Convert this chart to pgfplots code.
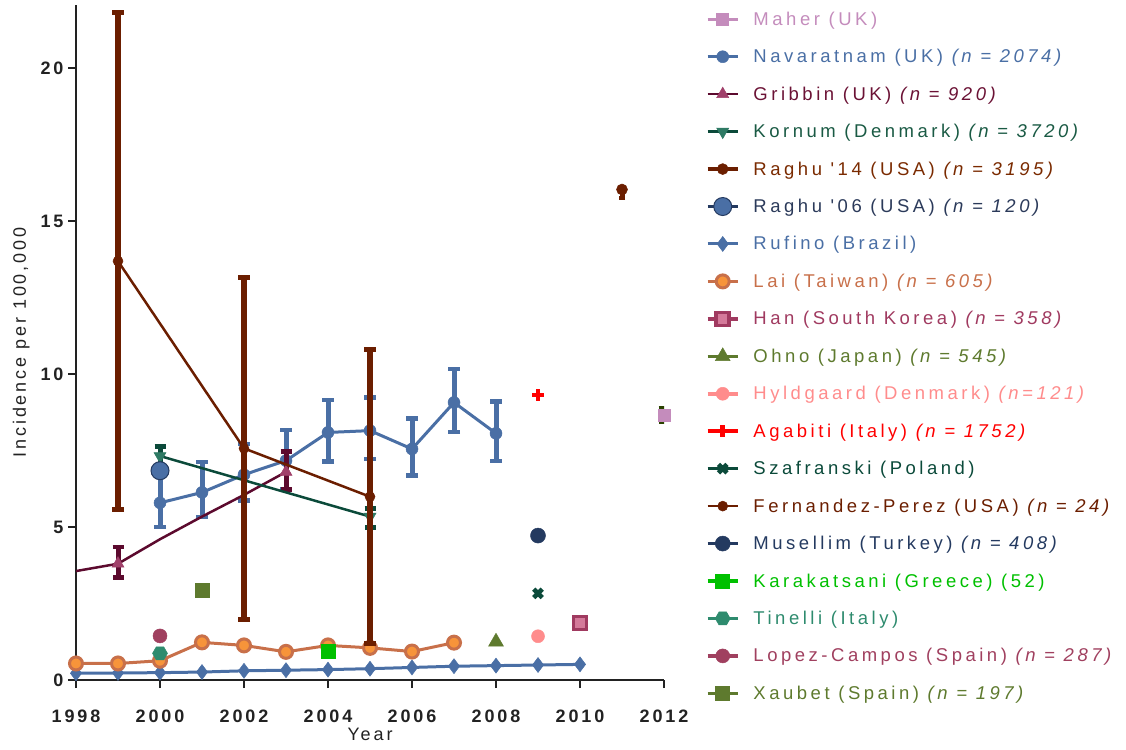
\documentclass[border=0pt]{standalone}
\usepackage{fontspec}
\setmainfont{Liberation Sans}[LetterSpace=16, Ligatures=TeXOff]
\usepackage{pgfplots}
\pgfplotsset{compat=1.18}
\usetikzlibrary{plotmarks}

\pgfdeclareplotmark{hexagon*}{%
  \pgfpathmoveto{\pgfqpointpolar{0}{\pgfplotmarksize}}%
  \pgfpathlineto{\pgfqpointpolar{60}{\pgfplotmarksize}}%
  \pgfpathlineto{\pgfqpointpolar{120}{\pgfplotmarksize}}%
  \pgfpathlineto{\pgfqpointpolar{180}{\pgfplotmarksize}}%
  \pgfpathlineto{\pgfqpointpolar{240}{\pgfplotmarksize}}%
  \pgfpathlineto{\pgfqpointpolar{300}{\pgfplotmarksize}}%
  \pgfpathclose
  \pgfusepathqfillstroke}

\definecolor{axisc}{HTML}{222222}
\definecolor{cMaher}{HTML}{C48CBC}
\definecolor{cMaherBar}{HTML}{2A4200}
\definecolor{cNav}{HTML}{4A6FA5}
\definecolor{cGribLine}{HTML}{5C0A2E}
\definecolor{cGribMark}{HTML}{A0406A}
\definecolor{cGribText}{HTML}{6B1235}
\definecolor{cKorn}{HTML}{0B4A3A}
\definecolor{cKornMark}{HTML}{2E7A64}
\definecolor{cKornText}{HTML}{1A5A44}
\definecolor{cRag}{HTML}{6B1E00}
\definecolor{cRagText}{HTML}{7A2A00}
\definecolor{cRag06Text}{HTML}{2B3A5A}
\definecolor{cLai}{HTML}{C8704A}
\definecolor{cLaiFill}{HTML}{F7943A}
\definecolor{cHan}{HTML}{A03A60}
\definecolor{cHanFill}{HTML}{D47A9A}
\definecolor{cOhno}{HTML}{5E7A2E}
\definecolor{cHyl}{HTML}{FF8C8C}
\definecolor{cAga}{HTML}{FF0000}
\definecolor{cMus}{HTML}{243A60}
\definecolor{cKar}{HTML}{00C000}
\definecolor{cTin}{HTML}{2E8B6E}
\definecolor{cLop}{HTML}{A0405F}

\begin{document}
\begin{tikzpicture}
\useasboundingbox (-76pt,-69pt) rectangle (1050pt,680pt);
\begin{axis}[
  scale only axis, width=588pt, height=675pt,
  xmin=1998, xmax=2012, ymin=0, ymax=22.06,
  axis x line*=bottom, axis y line*=left,
  axis line style={line width=2.5pt, color=axisc, -},
  xtick={1998,2000,...,2012}, ytick={0,5,...,20},
  tick align=outside, major tick length=8pt,
  tick style={line width=2.5pt, color=axisc},
  /pgf/number format/1000 sep={},
  /pgf/number format/assume math mode=true,
  tick label style={font=\fontsize{18}{20}\selectfont\bfseries, text=axisc},
  xticklabel style={yshift=-18pt},
  yticklabel style={xshift=-1pt},
  xlabel={Year}, ylabel={Incidence per 100,000},
  label style={font=\fontsize{18}{20}\selectfont, text=axisc},
  xlabel style={yshift=1pt},
  ylabel style={yshift=4pt},
  clip mode=individual,
  legend cell align=left,
  legend image code/.code={\draw[mark repeat=2,mark phase=2] plot coordinates {(0pt,0pt) (15pt,0pt) (30pt,0pt)};},
  legend style={at={(1.0714,0.9996)}, anchor=north west, draw=none, fill=none,
    inner sep=0pt, outer sep=0pt, row sep=9.45pt, column sep=14pt,
    font=\fontsize{18.5}{22}\selectfont\addfontfeature{LetterSpace=19},
    nodes={inner sep=0pt, text height=20pt, text depth=8pt}},
]
% Maher
\addplot[cMaher, line width=3.5pt, mark=square*, mark size=6pt,
  mark options={fill=cMaher, draw=cMaher, line width=0.5pt},
  error bars/.cd, y dir=both, y explicit,
  error bar style={line width=5pt, cMaherBar},
  error mark options={rotate=90, mark size=5.5pt, line width=5pt, cMaherBar}]
  coordinates {(2012,8.66) += (0,0.2) -= (0,0.2)};
\addlegendentry{\textcolor{cMaher}{Maher (UK)}}
% Navaratnam
\addplot[cNav, line width=3pt, mark=*, mark size=6pt,
  mark options={fill=cNav, draw=cNav, line width=0.5pt},
  error bars/.cd, y dir=both, y explicit,
  error bar style={line width=5pt, cNav},
  error mark options={rotate=90, mark size=6pt, line width=4.5pt, cNav}]
  coordinates {
  (2000,5.79) += (0,1.0) -= (0,0.79)
  (2001,6.13) += (0,1.0) -= (0,0.8)
  (2002,6.71) += (0,1.0) -= (0,0.85)
  (2003,7.17) += (0,1.0) -= (0,0.92)
  (2004,8.09) += (0,1.06) -= (0,0.95)
  (2005,8.15) += (0,1.09) -= (0,0.92)
  (2006,7.55) += (0,1.0) -= (0,0.86)
  (2007,9.07) += (0,1.09) -= (0,0.96)
  (2008,8.06) += (0,1.04) -= (0,0.9)
  };
\addlegendentry{\textcolor{cNav}{Navaratnam (UK) \textit{(n = 2074)}}}
% Gribbin error bars
\addplot[forget plot, only marks, mark=none, cGribLine,
  error bars/.cd, y dir=both, y explicit,
  error bar style={line width=5pt, cGribLine},
  error mark options={rotate=90, mark size=5.5pt, line width=4.5pt, cGribLine}]
  coordinates {(1999,3.8) += (0,0.55) -= (0,0.45) (2003,6.8) += (0,0.66) -= (0,0.57)};
% Gribbin
\addplot[cGribLine, line width=2.5pt, mark=triangle*, mark size=7pt, mark indices={2,6},
  mark options={fill=cGribMark, draw=cGribMark, line width=0.5pt}]
  coordinates {(1998,3.56) (1999,3.8) (2000,4.6) (2001,5.34) (2002,6.05) (2003,6.8)};
\addlegendentry{\textcolor{cGribText}{Gribbin (UK) \textit{(n = 920)}}}
% Kornum
\addplot[cKorn, line width=2.5pt, mark=triangle*, mark size=7pt,
  mark options={fill=cKornMark, draw=cKornMark, rotate=180, line width=0.5pt},
  error bars/.cd, y dir=both, y explicit,
  error bar style={line width=5pt, cKorn},
  error mark options={rotate=90, mark size=5.5pt, line width=5pt, cKorn}]
  coordinates {(2000,7.32) += (0,0.3) -= (0,0.37) (2005,5.34) += (0,0.26) -= (0,0.34)};
\addlegendentry{\textcolor{cKornText}{Kornum (Denmark) \textit{(n = 3720)}}}
% Raghu '14
\addplot[cRag, line width=3.5pt, mark=*, mark size=5.5pt,
  mark options={fill=cRag, draw=cRag, line width=0.5pt},
  error bars/.cd, y dir=minus, y explicit,
  error bar style={line width=5pt, cRag},
  error mark options={rotate=90, mark size=3pt, line width=4pt, cRag}]
  coordinates {(2011,16.03) -= (0,0.27)};
\addlegendentry{\textcolor{cRagText}{Raghu '14 (USA) \textit{(n = 3195)}}}
% Raghu '06
\addplot[cMus, line width=3.5pt, mark=*, mark size=9pt,
  mark options={fill=cNav, draw=cMus, line width=1pt}]
  coordinates {(2000,6.84)};
\addlegendentry{\textcolor{cRag06Text}{Raghu '06 (USA) \textit{(n = 120)}}}
% Rufino
\addplot[cNav, line width=3pt, mark=diamond*, mark size=7.5pt,
  mark options={fill=cNav, draw=cNav, line width=0.5pt}]
  coordinates {(1998,0.22) (1999,0.23) (2000,0.24) (2001,0.26) (2002,0.3) (2003,0.32)
  (2004,0.34) (2005,0.37) (2006,0.41) (2007,0.45) (2008,0.47) (2009,0.49) (2010,0.51)};
\addlegendentry{\textcolor{cNav}{Rufino (Brazil)}}
% Lai
\addplot[cLai, line width=3pt, mark=*, mark size=6.5pt,
  mark options={fill=cLaiFill, draw=cLai, line width=3pt}]
  coordinates {(1998,0.54) (1999,0.54) (2000,0.63) (2001,1.23) (2002,1.13) (2003,0.92)
  (2004,1.13) (2005,1.05) (2006,0.93) (2007,1.22)};
\addlegendentry{\textcolor{cLai}{Lai (Taiwan) \textit{(n = 605)}}}
% Han
\addplot[cHan, line width=3.5pt, mark=square*, mark size=6.5pt,
  mark options={fill=cHanFill, draw=cHan, line width=3.5pt}]
  coordinates {(2010,1.86)};
\addlegendentry{\textcolor{cHan}{Han (South Korea) \textit{(n = 358)}}}
% Ohno
\addplot[cOhno, line width=3.5pt, mark=triangle*, mark size=8.5pt,
  mark options={fill=cOhno, draw=cOhno, line width=0.5pt}]
  coordinates {(2008,1.25)};
\addlegendentry{\textcolor{cOhno}{Ohno (Japan) \textit{(n = 545)}}}
% Hyldgaard
\addplot[cHyl, line width=3.5pt, mark=*, mark size=6.5pt,
  mark options={fill=cHyl, draw=cHyl, line width=0.5pt}]
  coordinates {(2009,1.43)};
\addlegendentry{\textcolor{cHyl}{Hyldgaard (Denmark) \textit{(n=121)}}}
% Agabiti
\addplot[cAga, line width=3.5pt, mark=+, mark size=6pt,
  mark options={draw=cAga, line width=4.5pt}]
  coordinates {(2009,9.31)};
\addlegendentry{\textcolor{cAga}{Agabiti (Italy) \textit{(n = 1752)}}}
% Szafranski
\addplot[cKorn, line width=3.5pt, mark=x, mark size=6pt,
  mark options={draw=cKorn, line width=4.5pt}]
  coordinates {(2009,2.83)};
\addlegendentry{\textcolor{cKorn}{Szafranski (Poland)}}
% Fernandez-Perez
\addplot[cRag, line width=2.5pt, mark=*, mark size=5pt,
  mark options={fill=cRag, draw=cRag, line width=0.5pt},
  error bars/.cd, y dir=both, y explicit,
  error bar style={line width=6pt, cRag},
  error mark options={rotate=90, mark size=6pt, line width=5pt, cRag}]
  coordinates {(1999,13.69) +- (0,8.12) (2002,7.57) +- (0,5.59) (2005,5.99) +- (0,4.81)};
\addlegendentry{\textcolor{cRag}{Fernandez-Perez (USA) \textit{(n = 24)}}}
% Musellim
\addplot[cMus, line width=3.5pt, mark=*, mark size=7.5pt,
  mark options={fill=cMus, draw=cMus, line width=0.5pt}]
  coordinates {(2009,4.72)};
\addlegendentry{\textcolor{cMus}{Musellim (Turkey) \textit{(n = 408)}}}
% Karakatsani
\addplot[cKar, line width=3.5pt, mark=square*, mark size=7pt,
  mark options={fill=cKar, draw=cKar, line width=0.5pt}]
  coordinates {(2004,0.93)};
\addlegendentry{\textcolor{cKar}{Karakatsani (Greece) (52)}}
% Tinelli
\addplot[cTin, line width=3.5pt, mark=hexagon*, mark size=7.5pt,
  mark options={fill=cTin, draw=cTin, line width=0.5pt}]
  coordinates {(2000,0.87)};
\addlegendentry{\textcolor{cTin}{Tinelli (Italy)}}
% Lopez-Campos
\addplot[cLop, line width=3.5pt, mark=*, mark size=7pt,
  mark options={fill=cLop, draw=cLop, line width=0.5pt}]
  coordinates {(2000,1.44)};
\addlegendentry{\textcolor{cLop}{Lopez-Campos (Spain) \textit{(n = 287)}}}
% Xaubet
\addplot[cOhno, line width=3.5pt, mark=square*, mark size=7pt,
  mark options={fill=cOhno, draw=cOhno, line width=0.5pt}]
  coordinates {(2001,2.94)};
\addlegendentry{\textcolor{cOhno}{Xaubet (Spain) \textit{(n = 197)}}}
\end{axis}
\end{tikzpicture}
\end{document}
